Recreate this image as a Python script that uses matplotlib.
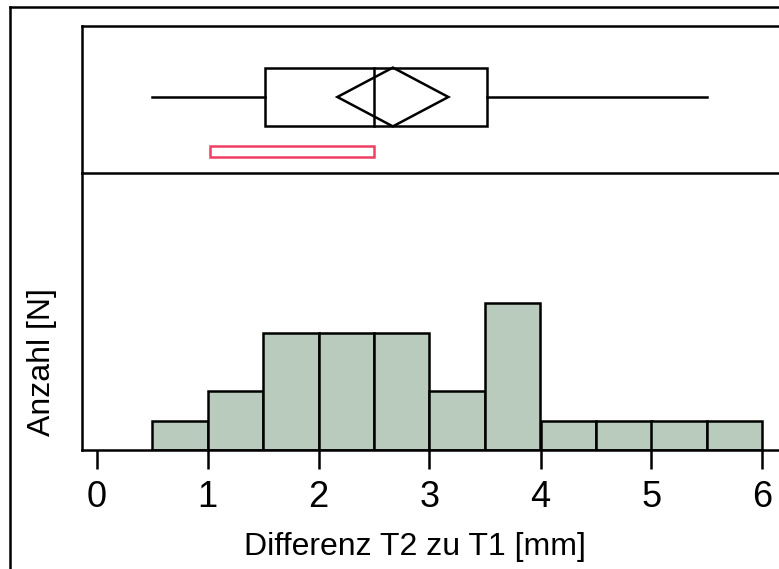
import matplotlib.pyplot as plt
from matplotlib.lines import Line2D
from matplotlib.patches import Rectangle, Polygon

plt.rcParams['font.family'] = ['Liberation Sans', 'DejaVu Sans']

# histogram bins and counts
bin_left = [0.5, 1.0, 1.5, 2.0, 2.5, 3.0, 3.5, 4.0, 4.5, 5.0, 5.5]
counts = [1, 2, 4, 4, 4, 2, 5, 1, 1, 1, 1]
bin_width = 0.5

# outlier box plot summary
whisker_lo, q1, median, q3, whisker_hi = 0.5, 1.52, 2.5, 3.52, 5.5
mean, mean_ci = 2.67, 0.5
shortest_half = (1.02, 2.5)

xticks = [0, 1, 2, 3, 4, 5, 6]

W, H = 779, 569
fig = plt.figure(figsize=(W / 100, H / 100), dpi=100)

def fx(px):
    return px / W

def fy(py):
    return 1 - py / H

left_px, right_px = 82, 795
x0_px, unit_px = 96.5, 111.0
xlim = ((left_px - x0_px) / unit_px, (right_px - x0_px) / unit_px)

ax_box = fig.add_axes([fx(left_px), fy(173), fx(right_px - left_px), fy(26) - fy(173)])
ax_hist = fig.add_axes([fx(left_px), fy(450), fx(right_px - left_px), fy(173) - fy(450)])

lw = 1.8
# box plot panel
ax_box.set_xlim(*xlim)
ax_box.set_ylim(0, 1)
ax_box.set_xticks([])
ax_box.set_yticks([])
for s in ['right', 'bottom']:
    ax_box.spines[s].set_visible(False)
for s in ['left', 'top']:
    ax_box.spines[s].set_linewidth(lw)

yc, hh = 0.517, 0.2
ax_box.plot([whisker_lo, q1], [yc, yc], color='black', lw=lw)
ax_box.plot([q3, whisker_hi], [yc, yc], color='black', lw=lw)
ax_box.add_patch(Rectangle((q1, yc - hh), q3 - q1, 2 * hh, fill=False, ec='black', lw=lw))
ax_box.plot([median, median], [yc - hh, yc + hh], color='black', lw=lw)
ax_box.add_patch(Polygon([(mean - mean_ci, yc), (mean, yc + hh), (mean + mean_ci, yc), (mean, yc - hh)],
                         closed=True, fill=False, ec='black', lw=lw))
ax_box.add_patch(Rectangle((shortest_half[0], 0.109), shortest_half[1] - shortest_half[0], 0.075,
                           fill=False, ec='#EE3F63', lw=lw))

# histogram panel
ax_hist.bar(bin_left, counts, width=bin_width, align='edge', color='#B9CBBC', edgecolor='black', lw=lw)
ax_hist.set_xlim(*xlim)
ax_hist.set_ylim(0, 277 / 29.35)
ax_hist.set_yticks([])
ax_hist.set_xticks(xticks)
ax_hist.set_xticklabels([str(t) for t in xticks])
ax_hist.spines['right'].set_visible(False)
for s in ['left', 'top', 'bottom']:
    ax_hist.spines[s].set_linewidth(lw)
ax_hist.tick_params(axis='x', direction='out', length=13.5, width=lw, labelsize=26, pad=8)

fig.text(fx(415), fy(547), 'Differenz T2 zu T1 [mm]', fontsize=23, ha='center', va='center')
fig.text(fx(42), fy(362), 'Anzahl [N]', fontsize=23, rotation=90, ha='center', va='center')

# outer frame
fig.add_artist(Line2D([fx(10), fx(10)], [fy(7), 0], color='black', lw=lw))
fig.add_artist(Line2D([fx(10), 1], [fy(7), fy(7)], color='black', lw=lw))

fig.savefig('out.png', dpi=100)
